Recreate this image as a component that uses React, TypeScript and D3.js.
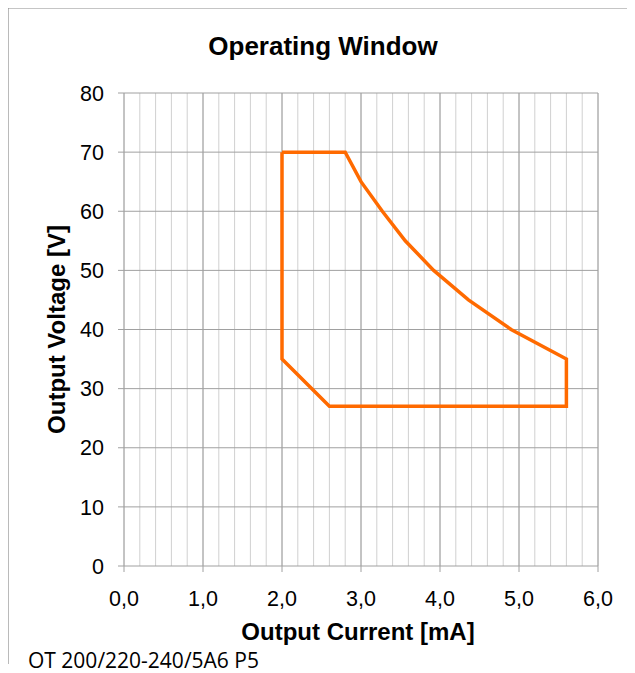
import React from 'react'
import * as d3 from 'd3'

// operating window boundary, current [mA] vs voltage [V]
const currents = [2.0, 2.8, 3.0, 3.27, 3.56, 3.92, 4.36, 4.9, 5.6, 5.6, 2.6, 2.0, 2.0]
const voltages = [70, 70, 65, 60, 55, 50, 45, 40, 35, 27, 27, 35, 70]

const xTicks = [0, 1, 2, 3, 4, 5, 6]
const xMinor = d3.range(0, 6.01, 0.2)
const yTicks = [0, 10, 20, 30, 40, 50, 60, 70, 80]

const title = 'Operating Window'
const xTitle = 'Output Current [mA]'
const yTitle = 'Output Voltage [V]'
const footer = 'OT 200/220-240/5A6 P5'

const W = 635
const H = 673
const margin = { top: 93, right: 37, bottom: 107, left: 124 }

export default function App () {
  const x = d3.scaleLinear().domain([0, 6]).range([margin.left, W - margin.right])
  const y = d3.scaleLinear().domain([0, 80]).range([H - margin.bottom, margin.top])
  const pts: [number, number][] = currents.map((c, i) => [c, voltages[i]])
  const line = d3.line<[number, number]>().x(d => x(d[0])).y(d => y(d[1]))
  const font = '"Liberation Sans", Arial, sans-serif'
  const y0 = y(0)
  const y80 = y(80)

  return (
    <svg width={W} height={H} style={{ display: 'block', margin: '-8px 0 0 -8px' }}>
      <rect x={0} y={0} width={W} height={H} fill='#fff' />
      {/* chart border */}
      <path d={`M8,664V8H${W}`} fill='none' stroke='#8c8c8c' strokeWidth={1.2} />

      <text x={323} y={55} textAnchor='middle' fontFamily={font} fontWeight='bold' fontSize={26}>{title}</text>

      {/* minor vertical gridlines */}
      {xMinor.map((v, i) => (
        <line key={'m' + i} x1={x(v)} x2={x(v)} y1={y80} y2={y0} stroke='#d0d0d0' strokeWidth={1} />
      ))}
      {/* major vertical gridlines + ticks */}
      {xTicks.map(v => (
        <g key={'x' + v}>
          <line x1={x(v)} x2={x(v)} y1={y80} y2={y0 + 6} stroke='#a0a0a0' strokeWidth={1} />
          <text x={x(v)} y={y0 + 40} textAnchor='middle' fontFamily={font} fontSize={21.5}>
            {d3.format('.1f')(v).replace('.', ',')}
          </text>
        </g>
      ))}
      {/* horizontal gridlines + ticks */}
      {yTicks.map(v => (
        <g key={'y' + v}>
          <line x1={x(0) - 6} x2={x(6)} y1={y(v)} y2={y(v)} stroke='#a0a0a0' strokeWidth={1} />
          <text x={104} y={y(v) + 7.7} textAnchor='end' fontFamily={font} fontSize={21.5}>{v}</text>
        </g>
      ))}

      <path d={line(pts) || ''} fill='none' stroke='#ff6a00' strokeWidth={3.5} strokeLinejoin='miter' />

      <text x={358} y={640} textAnchor='middle' fontFamily={font} fontWeight='bold' fontSize={24}>{xTitle}</text>
      <text transform={`translate(65,${(y0 + y80) / 2}) rotate(-90)`} textAnchor='middle'
        fontFamily={font} fontWeight='bold' fontSize={24}>{yTitle}</text>

      <text x={28} y={668} fontFamily='"Open Sans", "Noto Sans", sans-serif' fontSize={21}>{footer}</text>
    </svg>
  )
}
